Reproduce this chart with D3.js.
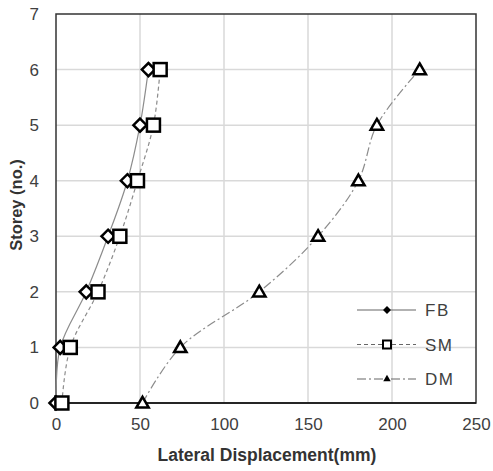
<!DOCTYPE html>
<html>
<head>
<meta charset="utf-8">
<script src="https://cdn.jsdelivr.net/npm/d3@7"></script>
<style>
  body { margin: 0; background: #fff; }
  text { font-family: "Liberation Sans", Arial, sans-serif; }
</style>
</head>
<body>
<div id="chart"></div>
<script>
// storey numbers and lateral displacement (mm) for each model
const storeys = [0, 1, 2, 3, 4, 5, 6];
const fbValues = [0, 2.5, 18, 31, 42.5, 50, 55];
const smValues = [3.5, 8.5, 25, 38, 48.5, 58, 62];
const dmValues = [51.5, 74, 121, 156, 180, 191, 216.5];
const xTicks = [0, 50, 100, 150, 200, 250];
const yTicks = [0, 1, 2, 3, 4, 5, 6, 7];
const seriesNames = ["FB", "SM", "DM"];

let width = 493,
    height = 471;
let margin = { top: 14, right: 17, bottom: 68, left: 56 };

let svg = d3.select("#chart")
    .append("svg")
    .attr("width", width)
    .attr("height", height);

let x = d3.scaleLinear().domain([0, 250]).range([margin.left, width - margin.right]);
let y = d3.scaleLinear().domain([0, 7]).range([height - margin.bottom, margin.top]);

// grid
svg.append("g")
    .selectAll("line.vg")
    .data(xTicks.slice(1, -1))
    .enter().append("line")
    .attr("x1", d => x(d)).attr("x2", d => x(d))
    .attr("y1", y(0)).attr("y2", y(7))
    .attr("stroke", "#d9d9d9").attr("stroke-width", 1.5);

svg.append("g")
    .selectAll("line.hg")
    .data(yTicks.slice(1, -1))
    .enter().append("line")
    .attr("x1", x(0)).attr("x2", x(250))
    .attr("y1", d => y(d)).attr("y2", d => y(d))
    .attr("stroke", "#d9d9d9").attr("stroke-width", 1.5);

// plot border
svg.append("rect")
    .attr("x", x(0)).attr("y", y(7))
    .attr("width", x(250) - x(0)).attr("height", y(0) - y(7))
    .attr("fill", "none").attr("stroke", "#333").attr("stroke-width", 1.5);

// axes
let xAxis = svg.append("g")
    .attr("transform", "translate(0," + y(0) + ")")
    .call(d3.axisBottom(x).tickValues(xTicks).tickFormat(d3.format("d")).tickSize(0).tickPadding(15));
let yAxis = svg.append("g")
    .attr("transform", "translate(" + x(0) + ",0)")
    .call(d3.axisLeft(y).tickValues(yTicks).tickFormat(d3.format("d")).tickSize(0).tickPadding(17));
[xAxis, yAxis].forEach(function (a) {
    a.select(".domain").remove();
    a.selectAll("text").attr("font-size", 17).attr("fill", "#404040")
        .attr("font-family", "Liberation Sans, Arial, sans-serif");
});
svg.append("line")
    .attr("x1", x(0)).attr("x2", x(250))
    .attr("y1", y(0)).attr("y2", y(0))
    .attr("stroke", "#111").attr("stroke-width", 1.5);

// axis titles
svg.append("text")
    .attr("x", 267)
    .attr("y", 461)
    .attr("text-anchor", "middle")
    .attr("font-size", 17.5)
    .attr("font-weight", "bold")
    .attr("fill", "#333")
    .text("Lateral Displacement(mm)");

svg.append("text")
    .attr("transform", "translate(22,205) rotate(-90)")
    .attr("text-anchor", "middle")
    .attr("font-size", 16.5)
    .attr("font-weight", "bold")
    .attr("fill", "#333")
    .text("Storey (no.)");

// lines
function pts(vals) {
    return storeys.map((s, i) => [vals[i], s]);
}
let line = d3.line()
    .x(d => x(d[0]))
    .y(d => y(d[1]))
    .curve(d3.curveCatmullRom.alpha(0.5));

let series = [
    { name: "FB", vals: fbValues, dash: null },
    { name: "SM", vals: smValues, dash: "4,3" },
    { name: "DM", vals: dmValues, dash: "9,3,2,3" }
];

series.forEach(function (s) {
    svg.append("path")
        .datum(pts(s.vals))
        .attr("d", line)
        .attr("fill", "none")
        .attr("stroke", "#8c8c8c")
        .attr("stroke-width", 1.2)
        .attr("stroke-dasharray", s.dash);
});

// markers
let diamond = d3.symbol().type(d3.symbolDiamond2).size(110);
let triangle = d3.symbol().type(d3.symbolTriangle2).size(110);

svg.append("g").selectAll("path")
    .data(pts(fbValues))
    .enter().append("path")
    .attr("d", diamond)
    .attr("transform", d => "translate(" + x(d[0]) + "," + y(d[1]) + ")")
    .attr("fill", "#fff").attr("stroke", "#000").attr("stroke-width", 2.5);

svg.append("g").selectAll("rect")
    .data(pts(smValues))
    .enter().append("rect")
    .attr("x", d => x(d[0]) - 6.5)
    .attr("y", d => y(d[1]) - 6.5)
    .attr("width", 13).attr("height", 13)
    .attr("fill", "#fff").attr("stroke", "#000").attr("stroke-width", 2.5);

svg.append("g").selectAll("path")
    .data(pts(dmValues))
    .enter().append("path")
    .attr("d", triangle)
    .attr("transform", d => "translate(" + x(d[0]) + "," + (y(d[1]) + 1) + ")")
    .attr("fill", "#fff").attr("stroke", "#000").attr("stroke-width", 2.5);

// legend
let legend = svg.append("g").attr("transform", "translate(357,310)");
series.forEach(function (s, i) {
    let g = legend.append("g").attr("transform", "translate(0," + (i * 34.5) + ")");
    g.append("line")
        .attr("x1", 0).attr("x2", 59).attr("y1", 0).attr("y2", 0)
        .attr("stroke", "#666").attr("stroke-width", 1.2)
        .attr("stroke-dasharray", s.dash);
    if (s.name === "FB") {
        g.append("path").attr("d", d3.symbol().type(d3.symbolDiamond2).size(40))
            .attr("transform", "translate(30,0)").attr("fill", "#000");
    } else if (s.name === "SM") {
        g.append("rect").attr("x", 26).attr("y", -4).attr("width", 8).attr("height", 8)
            .attr("fill", "#fff").attr("stroke", "#000").attr("stroke-width", 2);
    } else {
        g.append("path").attr("d", d3.symbol().type(d3.symbolTriangle2).size(40))
            .attr("transform", "translate(30,0)").attr("fill", "#000");
    }
    g.append("text")
        .attr("x", 68).attr("y", 6)
        .attr("font-size", 17).attr("fill", "#404040")
        .attr("letter-spacing", 1.5)
        .text(s.name);
});
</script>
</body>
</html>
